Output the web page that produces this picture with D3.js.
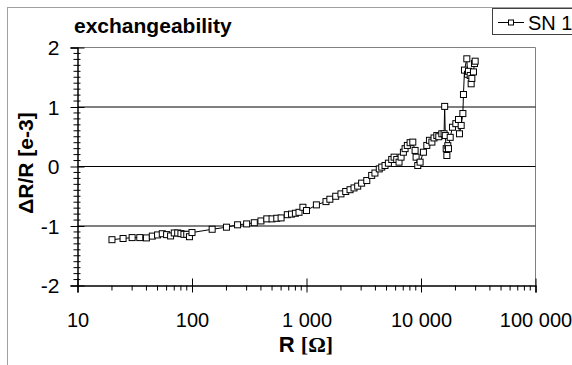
<!DOCTYPE html>
<html>
<head>
<meta charset="UTF-8">
<title></title>
<script src="https://d3js.org/d3.v7.min.js"></script>
<style>
    body { margin: 0; background: #fff; }
    text { font-family: Arial, "Liberation Sans", sans-serif; fill: #000; }
</style>
</head>
<body>
<div id="grafico"></div>
<script>
// R [Ohm] de cada medida
var resistencia = [20, 25, 30, 35, 40, 45, 50, 55, 60, 65, 70, 75, 80, 85, 90, 95, 100,
    150, 200, 250, 300, 350, 400, 450, 500, 550, 600, 680, 740, 800, 860, 930, 1000,
    1220, 1480, 1600, 1800, 2000, 2200, 2400, 2600, 2800, 3030, 3360, 3710, 3960, 4320,
    4540, 4850, 5190, 5550, 5820, 6140, 6430, 6700, 7020, 7260, 7600, 8030, 8480, 8880,
    9060, 9370, 9820, 10500, 11240, 11850, 12450, 13000, 13750, 14300, 15200, 15900,
    16100, 16300, 16600, 16820, 17150, 17370, 17990, 18850, 20150, 21250, 21680, 22430,
    23210, 23490, 23970, 25130, 25500, 25980, 26900, 27420, 27800, 28720, 29300, 29720];
// dR/R [e-3]
var deltaR = [-1.23, -1.21, -1.195, -1.195, -1.2, -1.17, -1.15, -1.13, -1.145, -1.167,
    -1.117, -1.117, -1.128, -1.14, -1.14, -1.18, -1.11,
    -1.055, -1.02, -0.98, -0.965, -0.945, -0.915, -0.88, -0.88, -0.87, -0.864, -0.81,
    -0.8, -0.786, -0.77, -0.685, -0.74,
    -0.645, -0.59, -0.55, -0.5, -0.46, -0.42, -0.39, -0.36, -0.33, -0.28, -0.236, -0.15,
    -0.11, -0.04, -0.01, 0.017, 0.056, 0.118, 0.157, 0.118, 0.073, 0.157, 0.24, 0.3,
    0.354, 0.4, 0.41, 0.27, 0.157, 0.017, 0.073, 0.24, 0.354, 0.44, 0.41, 0.48, 0.52,
    0.5, 0.55, 0.55, 1.01, 0.52, 0.3, 0.185, 0.35, 0.3, 0.49, 0.66, 0.72, 0.79, 0.55,
    0.69, 0.89, 1.21, 1.62, 1.81, 1.55, 1.6, 1.53, 1.39, 1.48, 1.59, 1.73, 1.77];

var xTicks = [10, 100, 1000, 10000, 100000];
var yTicks = [-2, -1, 0, 1, 2];
var titulo = "exchangeability";
var nombreSerie = "SN 1";

var W = 572, H = 365;

var svg = d3.select("#grafico")
    .append("svg")
    .attr("width", W)
    .attr("height", H);

// marco exterior
svg.append("rect")
    .attr("x", 7.5).attr("y", 7.5)
    .attr("width", 700).attr("height", 500)
    .attr("fill", "none")
    .attr("stroke", "#a0a0a0");

var x = d3.scaleLog().domain([10, 100000]).range([77.5, 535.5]);
var y = d3.scaleLinear().domain([-2, 2]).range([285.5, 47.5]);

// separador de miles con espacio y signo menos con guion normal
var loc = d3.formatLocale({ decimal: ".", thousands: " ", grouping: [3], currency: ["", ""], minus: "-" });
var fmt = loc.format(",");

// borde del area
svg.append("line")
    .attr("x1", x(10)).attr("x2", x(100000))
    .attr("y1", y(2)).attr("y2", y(2))
    .attr("stroke", "#808080");
svg.append("line")
    .attr("x1", x(100000)).attr("x2", x(100000))
    .attr("y1", y(2)).attr("y2", y(-2))
    .attr("stroke", "#808080");

// rejilla
svg.append("g")
    .selectAll("line")
    .data(yTicks.filter(d => d > -2 && d < 2))
    .enter()
    .append("line")
    .attr("x1", x(10)).attr("x2", x(100000))
    .attr("y1", d => y(d)).attr("y2", d => y(d))
    .attr("stroke", "#000");

// eje y
var minY = d3.range(-19, 20).map(d => d / 10).filter(d => Math.round(d * 10) % 10 != 0);
svg.append("g")
    .selectAll("line")
    .data(minY)
    .enter()
    .append("line")
    .attr("x1", x(10) - 4).attr("x2", x(10) + 3)
    .attr("y1", d => y(d)).attr("y2", d => y(d))
    .attr("stroke", "#000");

var ejeY = svg.append("g")
    .attr("transform", "translate(" + x(10) + ",0)")
    .call(d3.axisLeft(y).tickValues(yTicks).tickFormat(loc.format("d")).tickSize(7).tickPadding(11));
ejeY.attr("font-family", null);
ejeY.select(".domain").attr("stroke", "#000").attr("stroke-width", 1.5);
ejeY.selectAll(".tick line").attr("x2", -7).attr("x1", 7).attr("stroke", "#000");
ejeY.selectAll(".tick text").style("font-size", "21px").attr("dy", "0.35em");

// eje x
var minX = [];
xTicks.slice(0, -1).forEach(function(d) {
    for (var k = 2; k < 10; k++) minX.push(d * k);
});
svg.append("g")
    .selectAll("line")
    .data(minX)
    .enter()
    .append("line")
    .attr("x1", d => x(d)).attr("x2", d => x(d))
    .attr("y1", y(-2)).attr("y2", y(-2) + 5)
    .attr("stroke", "#000");

var ejeX = svg.append("g")
    .attr("transform", "translate(0," + y(-2) + ")")
    .call(d3.axisBottom(x).tickValues(xTicks).tickFormat(fmt).tickSize(7).tickPadding(20));
ejeX.attr("font-family", null);
ejeX.select(".domain").attr("stroke", "#000").attr("stroke-width", 1.5);
ejeX.selectAll(".tick line").attr("y1", -7).attr("y2", 7).attr("stroke", "#000");
ejeX.selectAll(".tick text").style("font-size", "20px");

// serie
var puntos = resistencia.map((r, i) => [r, deltaR[i]]);
svg.append("path")
    .datum(puntos)
    .attr("fill", "none")
    .attr("stroke", "#000")
    .attr("stroke-width", 1)
    .attr("d", d3.line().x(d => x(d[0])).y(d => y(d[1])));

svg.append("g")
    .selectAll("rect")
    .data(puntos)
    .enter()
    .append("rect")
    .attr("x", d => x(d[0]) - 3)
    .attr("y", d => y(d[1]) - 3)
    .attr("width", 6).attr("height", 6)
    .attr("fill", "#fff")
    .attr("stroke", "#000")
    .attr("stroke-width", 1);

// titulo y etiquetas
svg.append("text")
    .attr("x", 74).attr("y", 33)
    .style("font-size", "21px").style("font-weight", "bold")
    .text(titulo);

svg.append("text")
    .attr("transform", "translate(33,163) rotate(-90)")
    .attr("text-anchor", "middle")
    .style("font-size", "21px").style("font-weight", "bold")
    .text("\u0394R/R [e-3]");

var xl = svg.append("text")
    .attr("x", 306).attr("y", 352)
    .attr("text-anchor", "middle")
    .style("font-size", "22px").style("font-weight", "bold");
xl.append("tspan").text("R ");
xl.append("tspan").style("font-family", "'Liberation Serif', serif").text("[\u03A9]");

// leyenda
var ley = svg.append("g");
ley.append("rect")
    .attr("x", 492.5).attr("y", 8.5)
    .attr("width", 100).attr("height", 26)
    .attr("fill", "#fff")
    .attr("stroke", "#404040");
ley.append("line")
    .attr("x1", 498).attr("x2", 524)
    .attr("y1", 22.5).attr("y2", 22.5)
    .attr("stroke", "#000");
ley.append("rect")
    .attr("x", 508.5).attr("y", 20)
    .attr("width", 5).attr("height", 5)
    .attr("fill", "#fff").attr("stroke", "#000");
ley.append("text")
    .attr("x", 528).attr("y", 29.5)
    .style("font-size", "20px")
    .text(nombreSerie);
</script>
</body>
</html>
